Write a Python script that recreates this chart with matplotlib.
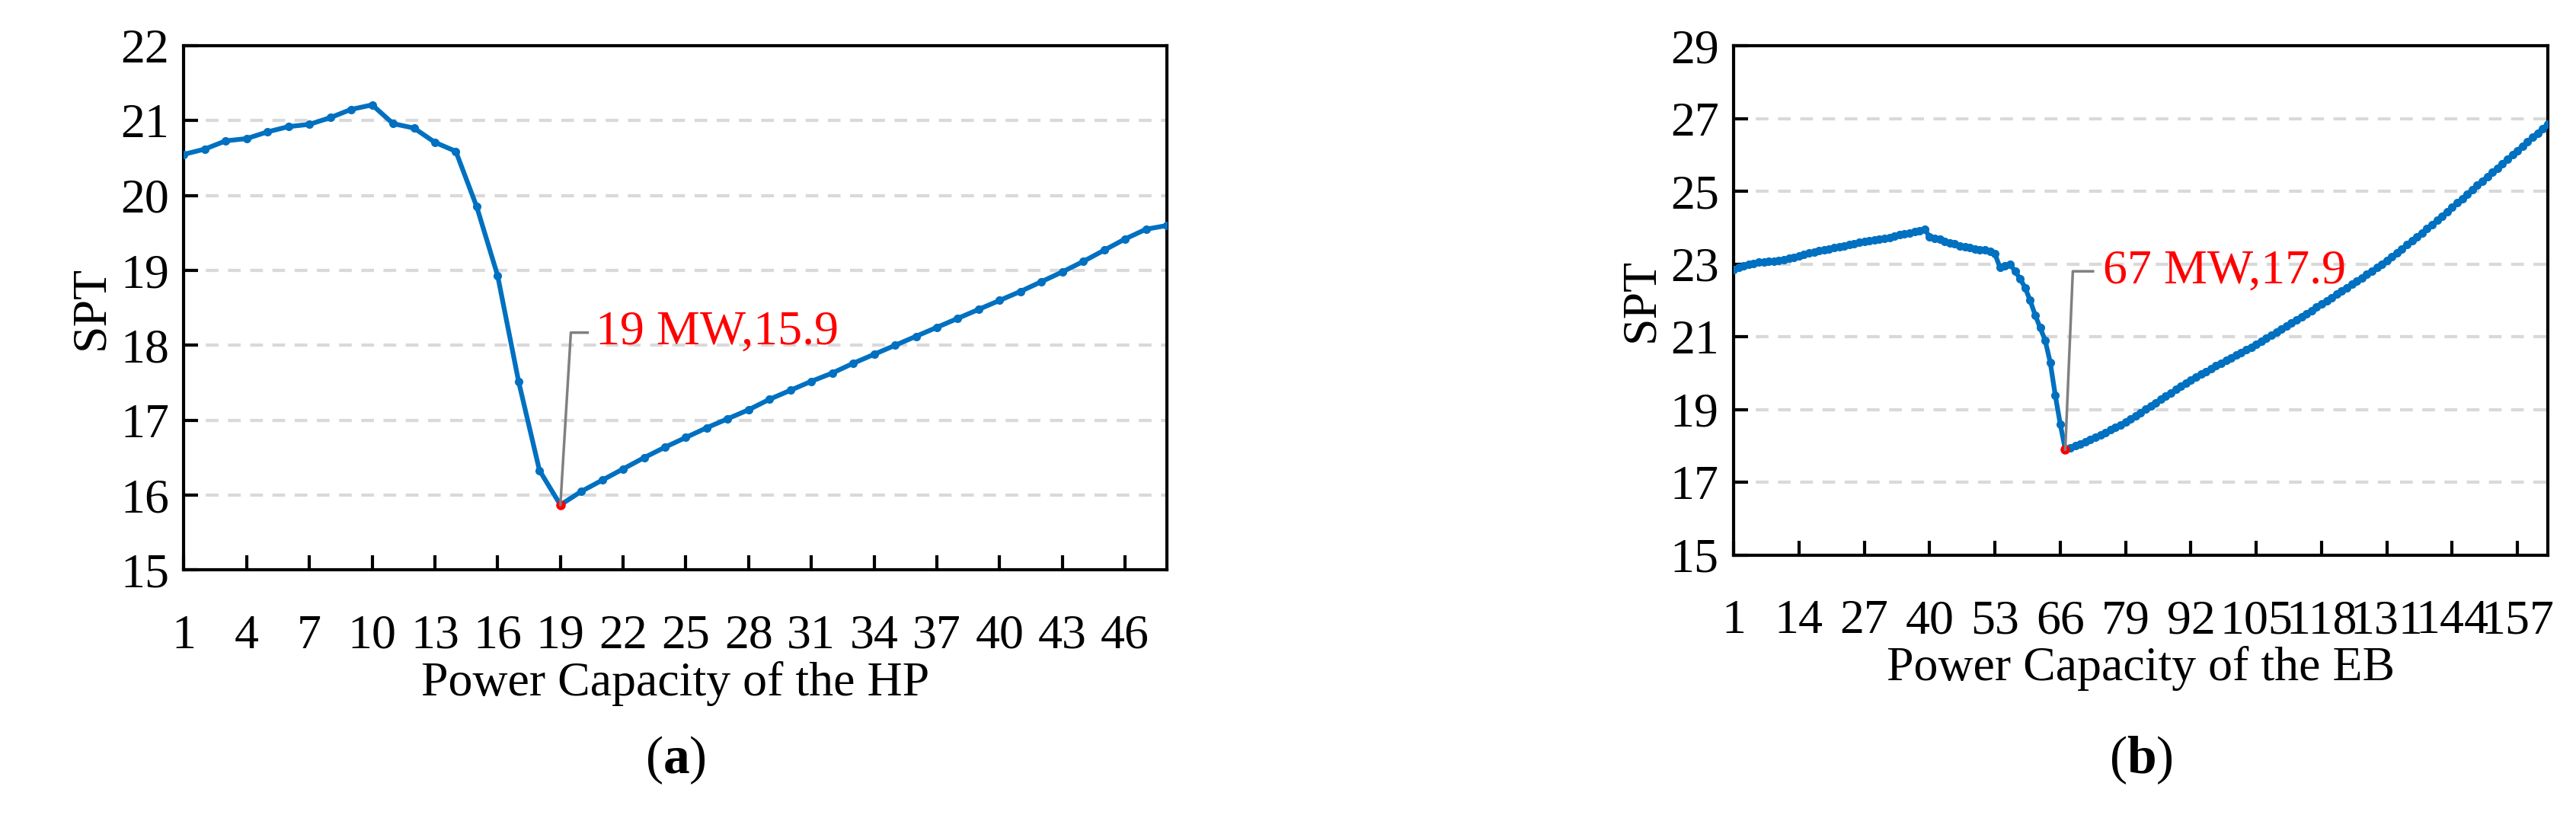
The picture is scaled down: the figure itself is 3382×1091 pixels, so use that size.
import numpy as np
import matplotlib
matplotlib.use("Agg")
import matplotlib.pyplot as plt

plt.rcParams['font.family'] = 'serif'
plt.rcParams['font.serif'] = ['Liberation Serif', 'DejaVu Serif']
plt.rcParams['mathtext.fontset'] = 'custom'
plt.rcParams['mathtext.rm'] = 'Liberation Serif'
plt.rcParams['mathtext.bf'] = 'Liberation Serif:bold'

hp_spt = [20.55, 20.62, 20.73, 20.76, 20.85, 20.92, 20.95, 21.04, 21.15, 21.21,
          20.96, 20.90, 20.71, 20.59, 19.85, 18.93, 17.52, 16.33, 15.87,
          16.05, 16.2, 16.35, 16.5, 16.64, 16.77, 16.9, 17.02, 17.14, 17.28, 17.4,
          17.52, 17.63, 17.76, 17.88, 18.0, 18.12, 18.24, 18.36, 18.48, 18.6,
          18.72, 18.85, 18.98, 19.12, 19.27, 19.42, 19.55, 19.6]
eb_spt = [22.85, 22.9, 22.95, 23.0, 23.02, 23.05, 23.06, 23.07, 23.08, 23.1,
          23.12, 23.15, 23.18, 23.22, 23.26, 23.3, 23.33, 23.36, 23.4, 23.42,
          23.45, 23.48, 23.5, 23.53, 23.56, 23.6, 23.62, 23.64, 23.66, 23.68,
          23.7, 23.73, 23.76, 23.8, 23.83, 23.86, 23.89, 23.92, 23.95,
          23.75, 23.7, 23.68, 23.62, 23.58, 23.55, 23.5, 23.48, 23.45, 23.42, 23.4,
          23.38, 23.35, 23.28, 22.9, 22.95, 23.0, 22.8, 22.6,
          22.35, 22.0, 21.6, 21.25, 20.9, 20.3, 19.4, 18.6,
          17.9,
          17.95, 18.0, 18.06, 18.12, 18.18, 18.24, 18.3, 18.37, 18.44, 18.51, 18.58, 18.66,
          18.74, 18.83, 18.92, 19.01, 19.1, 19.19, 19.28, 19.37, 19.46, 19.55, 19.64, 19.73, 19.82,
          19.9, 19.97, 20.05, 20.12, 20.2, 20.27, 20.35, 20.42, 20.5, 20.57, 20.65, 20.72, 20.8,
          20.88, 20.96, 21.04, 21.13, 21.21, 21.3, 21.38, 21.47, 21.55, 21.64, 21.72, 21.81, 21.9,
          21.99, 22.08, 22.17, 22.26, 22.35, 22.44, 22.53, 22.62, 22.71, 22.8, 22.9, 23.0, 23.1,
          23.2, 23.31, 23.42, 23.53, 23.64, 23.75, 23.86, 23.97, 24.08, 24.2, 24.32, 24.44, 24.56,
          24.68, 24.8, 24.92, 25.04, 25.16, 25.28, 25.4, 25.52, 25.64, 25.76, 25.88, 26.0, 26.12,
          26.24, 26.36, 26.48, 26.6, 26.72, 26.85]
hp_ticks = list(range(1, 47, 3))
eb_ticks = list(range(1, 158, 13))
hp_yticks = list(range(15, 23))
eb_yticks = list(range(15, 30, 2))
hp_min = (19, 15.87, "19 MW,15.9")
eb_min = (67, 17.9, "67 MW,17.9")

blue = '#0070C0'
fs = 46
fig = plt.figure(figsize=(33.82, 10.91), dpi=100)
ax1 = fig.add_axes([0.0714, 0.314, 0.3816, 0.631])
ax2 = fig.add_axes([0.673, 0.332, 0.316, 0.613])

def draw(ax, y, xticks, yticks, mn, xlabel, label, ms, ann_dx, ann_dy, ann_len):
    x = np.arange(1, len(y) + 1)
    ax.plot(x, y, color=blue, lw=4.5, marker='o', ms=ms, zorder=3)
    ax.plot([mn[0]], [mn[1]], 'o', color='red', ms=ms + 1, zorder=4)
    ax.set_xlim(1, len(y))
    ax.set_ylim(yticks[0], yticks[-1])
    ax.set_xticks(xticks)
    ax.set_yticks(yticks)
    for yv in yticks[1:-1]:
        ax.axhline(yv, color='#d9d9d9', lw=3, ls=(0, (4, 3)), zorder=1)
    for s in ax.spines.values():
        s.set_linewidth(3)
    ax.tick_params(labelsize=fs, direction='in', length=14, width=3)
    ax.tick_params(axis='x', pad=42)
    ax.tick_params(axis='y', pad=14)
    ax.set_ylabel('SPT', fontsize=fs, labelpad=6)
    ax.set_xlabel(xlabel, fontsize=fs, labelpad=2)
    tx, ty = mn[0] + ann_dx, mn[1] + ann_dy
    ax.plot([mn[0], tx, tx + ann_len], [mn[1], ty, ty], color='#808080', lw=2.5, zorder=5)
    ax.text(tx + ann_len * 1.5, ty, mn[2], color='red', fontsize=fs, va='center')
    fig.text(ax.get_position().x0 + ax.get_position().width / 2, 0.085, label,
             fontsize=fs + 4, ha='center', va='center')

draw(ax1, hp_spt, hp_ticks, hp_yticks, hp_min, 'Power Capacity of the HP', r'($\mathbf{a}$)', 7, 0.5, 2.3, 0.8)
draw(ax2, eb_spt, eb_ticks, eb_yticks, eb_min, 'Power Capacity of the EB', r'($\mathbf{b}$)', 7, 1.5, 4.9, 4)
fig.savefig('out.png', dpi=100)
